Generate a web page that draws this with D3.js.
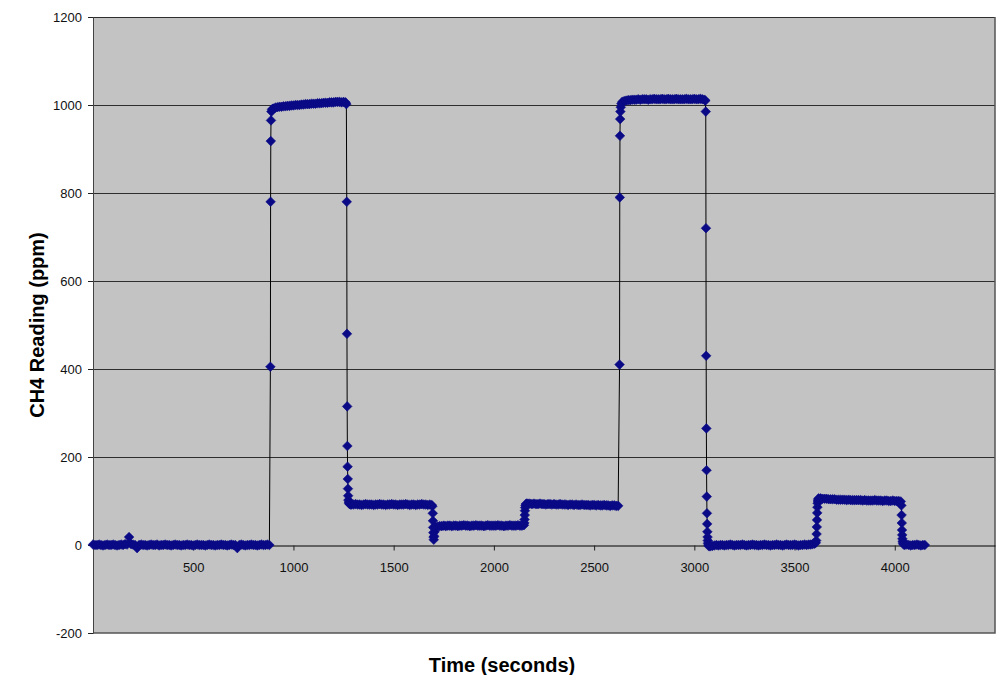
<!DOCTYPE html>
<html>
<head>
<meta charset="utf-8">
<script src="https://cdn.jsdelivr.net/npm/d3@7"></script>
<style>
  html, body { margin: 0; padding: 0; background: #ffffff; }
  svg { display: block; }
</style>
</head>
<body>
<div id="chart"></div>
<script>
// ---- Data (time in seconds, CH4 reading in ppm) ----
const timeSec = [
  // baseline 0–880
  0,10,20,30,40,50,60,70,80,90,
  100,110,120,130,140,150,160,170,180,190,
  200,210,220,230,240,250,260,270,280,290,
  300,310,320,330,340,350,360,370,380,390,
  400,410,420,430,440,450,460,470,480,490,
  500,510,520,530,540,550,560,570,580,590,
  600,610,620,630,640,650,660,670,680,690,
  700,710,720,730,740,750,760,770,780,790,
  800,810,820,830,840,850,860,870,880,
  // rise 1
  885,886,887,888,890,893,896,
  // plateau ~1000
  900,910,920,930,940,950,960,970,980,990,
  1000,1010,1020,1030,1040,1050,1060,1070,1080,1090,
  1100,1110,1120,1130,1140,1150,1160,1170,1180,1190,
  1200,1210,1220,1230,1240,1250,1260,
  // fall 1
  1264,1266,1267,1268,1269,1270,1271,1272,1273,1274,1276,1278,1282,1286,
  // plateau ~92
  1290,1300,1310,1320,1330,1340,1350,1360,1370,1380,
  1390,1400,1410,1420,1430,1440,1450,1460,1470,1480,
  1490,1500,1510,1520,1530,1540,1550,1560,1570,1580,
  1590,1600,1610,1620,1630,1640,1650,1660,1670,1680,
  1690,
  // drop
  1693,1695,1696,1697,1698,1699,1700,1702,1704,1706,
  // plateau ~44
  1710,1720,1730,1740,1750,1760,1770,1780,1790,1800,
  1810,1820,1830,1840,1850,1860,1870,1880,1890,1900,
  1910,1920,1930,1940,1950,1960,1970,1980,1990,2000,
  2010,2020,2030,2040,2050,2060,2070,2080,2090,2100,
  2110,2120,2130,2140,2150,
  // rise 2
  2152,2153,2154,2155,2156,2158,2160,2163,
  // plateau ~92
  2170,2180,2190,2200,2210,2220,2230,2240,2250,2260,
  2270,2280,2290,2300,2310,2320,2330,2340,2350,2360,
  2370,2380,2390,2400,2410,2420,2430,2440,2450,2460,
  2470,2480,2490,2500,2510,2520,2530,2540,2550,2560,
  2570,2580,2590,2600,2610,2620,
  // rise 3
  2627,2628,2629,2630,2631,2633,2636,2640,
  // plateau ~1013
  2650,2660,2670,2680,2690,2700,2710,2720,2730,2740,
  2750,2760,2770,2780,2790,2800,2810,2820,2830,2840,
  2850,2860,2870,2880,2890,2900,2910,2920,2930,2940,
  2950,2960,2970,2980,2990,3000,3010,3020,3030,3040,
  3050,
  // fall 3
  3055,3057,3058,3059,3060,3061,3062,3063,3064,3065,3066,3067,3068,3070,3073,
  // baseline 0
  3080,3090,3100,3110,3120,3130,3140,3150,3160,3170,
  3180,3190,3200,3210,3220,3230,3240,3250,3260,3270,
  3280,3290,3300,3310,3320,3330,3340,3350,3360,3370,
  3380,3390,3400,3410,3420,3430,3440,3450,3460,3470,
  3480,3490,3500,3510,3520,3530,3540,3550,3560,3570,
  3580,3590,3600,
  // rise 4
  3606,3608,3610,3611,3612,3613,3614,3615,3616,3618,3620,
  // plateau ~102
  3630,3640,3650,3660,3670,3680,3690,3700,3710,3720,
  3730,3740,3750,3760,3770,3780,3790,3800,3810,3820,
  3830,3840,3850,3860,3870,3880,3890,3900,3910,3920,
  3930,3940,3950,3960,3970,3980,3990,4000,4010,4020,
  // fall 4
  4030,4033,4034,4035,4036,4037,4038,4039,4041,4044,
  // baseline 0
  4050,4060,4070,4080,4090,4100,4110,4120,4130,4140,4150
];

const ch4Ppm = [
  // baseline 0–880
  1,0,0,1,0,-1,0,1,0,0,
  1,0,-1,0,1,0,2,1,18,2,
  1,0,-7,0,1,0,0,-1,0,1,
  0,0,1,-1,0,0,1,0,0,-1,
  0,1,0,0,-1,0,0,1,0,0,
  -1,0,1,0,0,0,-1,0,1,0,
  0,-1,0,0,1,0,0,-1,0,1,
  0,0,-7,0,1,0,-1,0,0,1,
  0,0,-1,0,1,0,0,1,0,
  // rise 1
  405,780,918,965,985,990,991,
  // plateau ~1000
  992,994,995,996,996,997,997,998,998,999,
  999,1000,1000,1000,1001,1001,1002,1002,1002,1003,
  1003,1003,1004,1004,1004,1005,1005,1005,1006,1006,
  1006,1007,1007,1007,1006,1007,1006,
  // fall 1
  1002,780,480,315,225,178,150,128,112,102,97,94,93,92,
  // plateau ~92
  92,92,93,92,92,91,92,93,92,92,
  92,91,92,92,93,92,92,91,92,92,
  93,92,92,91,92,92,92,93,92,91,
  92,92,91,92,92,93,92,92,91,92,
  91,
  // drop
  88,72,55,40,28,18,12,20,30,38,
  // plateau ~44
  41,42,43,43,44,43,44,44,43,44,
  44,43,44,44,45,44,44,43,44,44,
  45,44,44,44,43,44,45,44,44,44,
  44,45,44,44,43,44,44,45,44,44,
  44,45,44,44,45,
  // rise 2
  50,58,68,78,85,90,93,94,
  // plateau ~92
  94,94,93,94,93,93,94,93,93,92,
  93,93,92,93,92,92,93,92,92,92,
  91,92,92,91,92,91,91,92,91,91,
  91,90,91,91,90,91,90,90,91,90,
  90,89,90,90,89,89,
  // rise 3
  410,790,930,968,985,995,1003,1007,
  // plateau ~1013
  1009,1010,1011,1011,1012,1012,1012,1013,1012,1013,
  1013,1013,1012,1013,1013,1014,1013,1013,1013,1014,
  1013,1013,1014,1013,1013,1013,1014,1013,1013,1013,
  1013,1014,1013,1013,1013,1014,1013,1013,1014,1013,
  1012,
  // fall 3
  1010,985,720,430,265,170,110,72,48,30,18,10,4,0,-3,
  // baseline 0
  -3,-2,-1,0,-1,0,0,-1,0,0,
  1,0,-1,0,0,0,1,0,-1,0,
  0,1,0,0,-1,0,0,1,0,0,
  -1,0,0,1,0,0,-1,0,1,0,
  0,0,1,0,-1,0,0,1,0,1,
  1,2,3,
  // rise 4
  5,10,25,41,57,73,86,95,100,104,106,
  // plateau ~102
  106,105,105,105,104,104,104,104,103,103,
  103,103,103,102,103,102,102,102,102,102,
  102,101,102,101,101,101,101,102,101,101,
  101,100,101,101,100,100,101,100,100,100,
  // fall 4
  99,90,68,50,34,23,14,8,4,1,
  // baseline 0
  0,1,0,-1,0,0,1,0,-1,0,0
];

const xTicks = [500, 1000, 1500, 2000, 2500, 3000, 3500, 4000];
const yTicks = [-200, 0, 200, 400, 600, 800, 1000, 1200];
const xTitle = "Time (seconds)";
const yTitle = "CH4 Reading (ppm)";

// ---- Layout ----
const W = 998, H = 675;
const plot = { left: 93, right: 995, top: 17, bottom: 633 };

const data = d3.zip(timeSec, ch4Ppm).map(([t, v]) => ({ t, v }));

const x = d3.scaleLinear().domain([0, 4500]).range([plot.left, plot.right]);
const y = d3.scaleLinear().domain([-200, 1200]).range([plot.bottom, plot.top]);

const svg = d3.select("#chart").append("svg")
  .attr("width", W).attr("height", H)
  .style("font-family", "'Liberation Sans', Arial, sans-serif");

svg.append("rect").attr("x", 0).attr("y", 0).attr("width", W).attr("height", H).attr("fill", "#ffffff");

// plot area
svg.append("rect")
  .attr("x", plot.left).attr("y", plot.top)
  .attr("width", plot.right - plot.left).attr("height", plot.bottom - plot.top)
  .attr("fill", "#c3c3c3");

// gridlines
svg.append("g").selectAll("line")
  .data(yTicks.filter(d => d !== 0 && d !== -200))
  .join("line")
  .attr("x1", plot.left).attr("x2", plot.right)
  .attr("y1", d => Math.round(y(d)) + 0.5).attr("y2", d => Math.round(y(d)) + 0.5)
  .attr("stroke", "#2e2e2e").attr("stroke-width", 1);

// plot border (right, bottom)
svg.append("path")
  .attr("d", `M${plot.right},${plot.top}V${plot.bottom}H${plot.left}`)
  .attr("fill", "none").attr("stroke", "#555555").attr("stroke-width", 1.5);

const fmt = d => String(d);

// y axis
const yAxis = svg.append("g")
  .attr("transform", `translate(${plot.left},0)`)
  .call(d3.axisLeft(y).tickValues(yTicks).tickSize(5).tickPadding(6).tickFormat(fmt));
yAxis.select(".domain").attr("stroke", "#444444");
yAxis.selectAll(".tick line").attr("stroke", "#222222");
yAxis.selectAll("text").attr("font-size", 13).attr("fill", "#111111");

// x axis at y = 0
const xAxis = svg.append("g")
  .attr("transform", `translate(0,${Math.round(y(0)) + 0.5})`)
  .call(d3.axisBottom(x).tickValues(xTicks).tickSize(5).tickPadding(12).tickSizeOuter(0).tickFormat(fmt));
xAxis.select(".domain").attr("stroke", "#000000");
xAxis.selectAll(".tick line").attr("stroke", "#222222");
xAxis.selectAll("text").attr("font-size", 13).attr("fill", "#111111");

// series line
const line = d3.line().x(d => x(d.t)).y(d => y(d.v));
svg.append("path")
  .datum(data)
  .attr("d", line)
  .attr("fill", "none")
  .attr("stroke", "#000000")
  .attr("stroke-width", 1);

// diamond markers
const diamond = "M0,-4.8L4.8,0L0,4.8L-4.8,0Z";
svg.append("g").selectAll("path")
  .data(data)
  .join("path")
  .attr("d", diamond)
  .attr("transform", d => `translate(${x(d.t)},${y(d.v)})`)
  .attr("fill", "#0a0a86")
  .attr("stroke", "#0a0a86")
  .attr("stroke-width", 0.6);

// titles
svg.append("text")
  .attr("x", 502).attr("y", 672)
  .attr("text-anchor", "middle")
  .attr("font-size", 20).attr("font-weight", "bold").attr("fill", "#000")
  .text(xTitle);

svg.append("text")
  .attr("transform", `translate(44,${(plot.top + plot.bottom) / 2}) rotate(-90)`)
  .attr("text-anchor", "middle")
  .attr("font-size", 20).attr("font-weight", "bold").attr("fill", "#000")
  .text(yTitle);
</script>
</body>
</html>
